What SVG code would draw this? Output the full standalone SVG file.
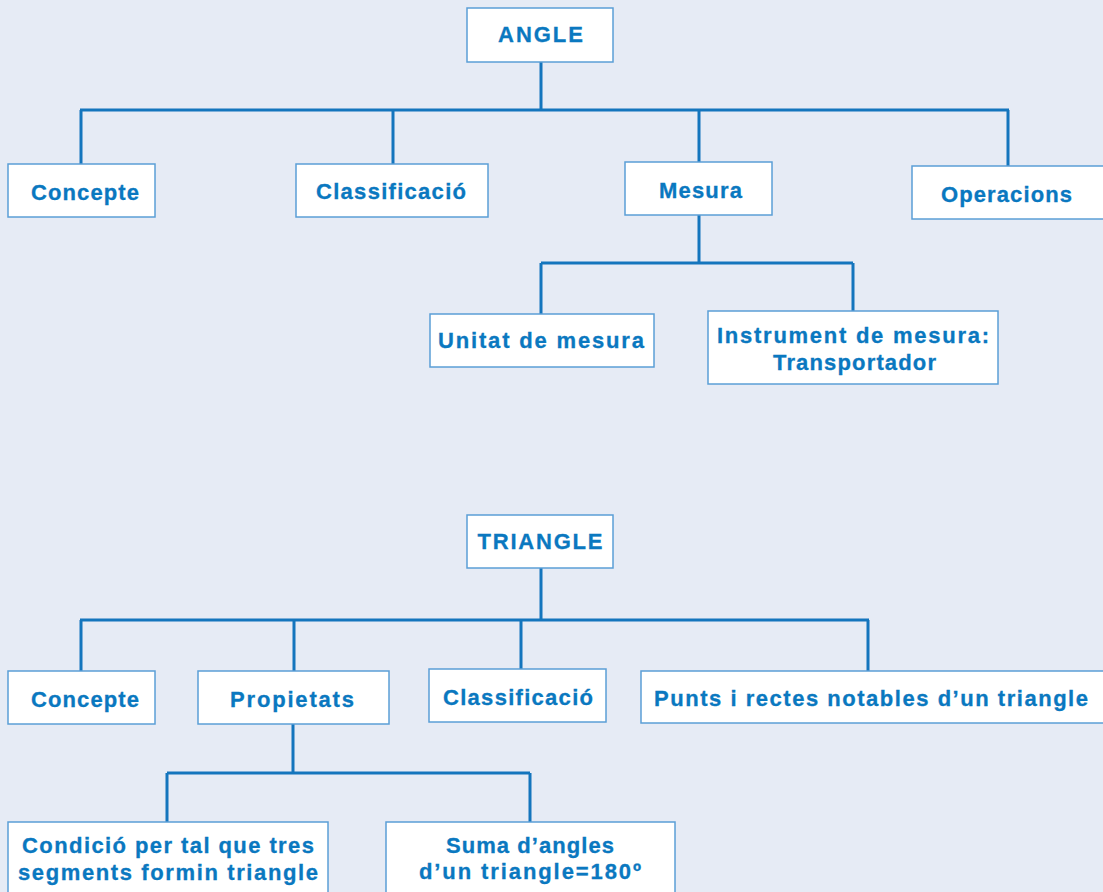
<svg xmlns="http://www.w3.org/2000/svg" width="1103" height="892" viewBox="0 0 1103 892">
<style>
.bg{fill:#e6ebf5}
.box{fill:#ffffff;stroke:#5b9fd6;stroke-width:1.5}
.t{font-family:"Liberation Sans",Arial,sans-serif;font-weight:bold;font-size:22px;fill:#0a78c0;stroke:#0a78c0;stroke-width:0.3;text-anchor:middle}
.c{fill:none;stroke:#1475bd;stroke-width:3}
</style>
<rect class="bg" x="0" y="0" width="1103" height="892"/>
<g id="connectors">
<path class="c" d="M541 62V110M80 110H1009M81 110V164M393 110V164M699 110V162M1008 110V166"/>
<path class="c" d="M699 215V263M541 263H853M541 263V314M853 263V311"/>
<path class="c" d="M541 568V620M80 620H869M81 620V671M294 620V671M521 620V669M868 620V671"/>
<path class="c" d="M293 724V773M167 773H530M167 773V822M530 773V822"/>
</g>
<g id="angle"><rect class="box" x="467" y="8" width="146" height="54"/><text class="t" x="540.5" y="42" textLength="85" lengthAdjust="spacing">ANGLE</text></g>
<g id="concepte1"><rect class="box" x="8" y="164" width="147" height="53"/><text class="t" x="85" y="200" textLength="108" lengthAdjust="spacing">Concepte</text></g>
<g id="classificacio1"><rect class="box" x="296" y="164" width="192" height="53"/><text class="t" x="391" y="199" textLength="150" lengthAdjust="spacing">Classificació</text></g>
<g id="mesura"><rect class="box" x="625" y="162" width="147" height="53"/><text class="t" x="700.5" y="198" textLength="83" lengthAdjust="spacing">Mesura</text></g>
<g id="operacions"><rect class="box" x="912" y="166" width="193" height="53"/><text class="t" x="1006.5" y="202" textLength="131" lengthAdjust="spacing">Operacions</text></g>
<g id="unitat"><rect class="box" x="430" y="314" width="224" height="53"/><text class="t" x="541" y="348" textLength="206" lengthAdjust="spacing">Unitat de mesura</text></g>
<g id="instrument"><rect class="box" x="708" y="311" width="290" height="73"/><text class="t" x="853" y="343" textLength="272" lengthAdjust="spacing">Instrument de mesura:</text><text class="t" x="854.5" y="370" textLength="163" lengthAdjust="spacing">Transportador</text></g>
<g id="triangle"><rect class="box" x="467" y="515" width="146" height="53"/><text class="t" x="540" y="549" textLength="125" lengthAdjust="spacing">TRIANGLE</text></g>
<g id="concepte2"><rect class="box" x="8" y="671" width="147" height="53"/><text class="t" x="85" y="707" textLength="108" lengthAdjust="spacing">Concepte</text></g>
<g id="propietats"><rect class="box" x="198" y="671" width="191" height="53"/><text class="t" x="292" y="707" textLength="124" lengthAdjust="spacing">Propietats</text></g>
<g id="classificacio2"><rect class="box" x="429" y="669" width="177" height="53"/><text class="t" x="518" y="705" textLength="150" lengthAdjust="spacing">Classificació</text></g>
<g id="punts"><rect class="box" x="641" y="671" width="464" height="52"/><text class="t" x="871" y="706" textLength="434" lengthAdjust="spacing">Punts i rectes notables d’un triangle</text></g>
<g id="condicio"><rect class="box" x="8" y="822" width="320" height="75"/><text class="t" x="168" y="853" textLength="292" lengthAdjust="spacing">Condició per tal que tres</text><text class="t" x="168" y="880" textLength="300" lengthAdjust="spacing">segments formin triangle</text></g>
<g id="suma"><rect class="box" x="386" y="822" width="289" height="75"/><text class="t" x="530" y="853" textLength="168" lengthAdjust="spacing">Suma d’angles</text><text class="t" x="530" y="879" textLength="222" lengthAdjust="spacing">d’un triangle=180º</text></g>
</svg>
